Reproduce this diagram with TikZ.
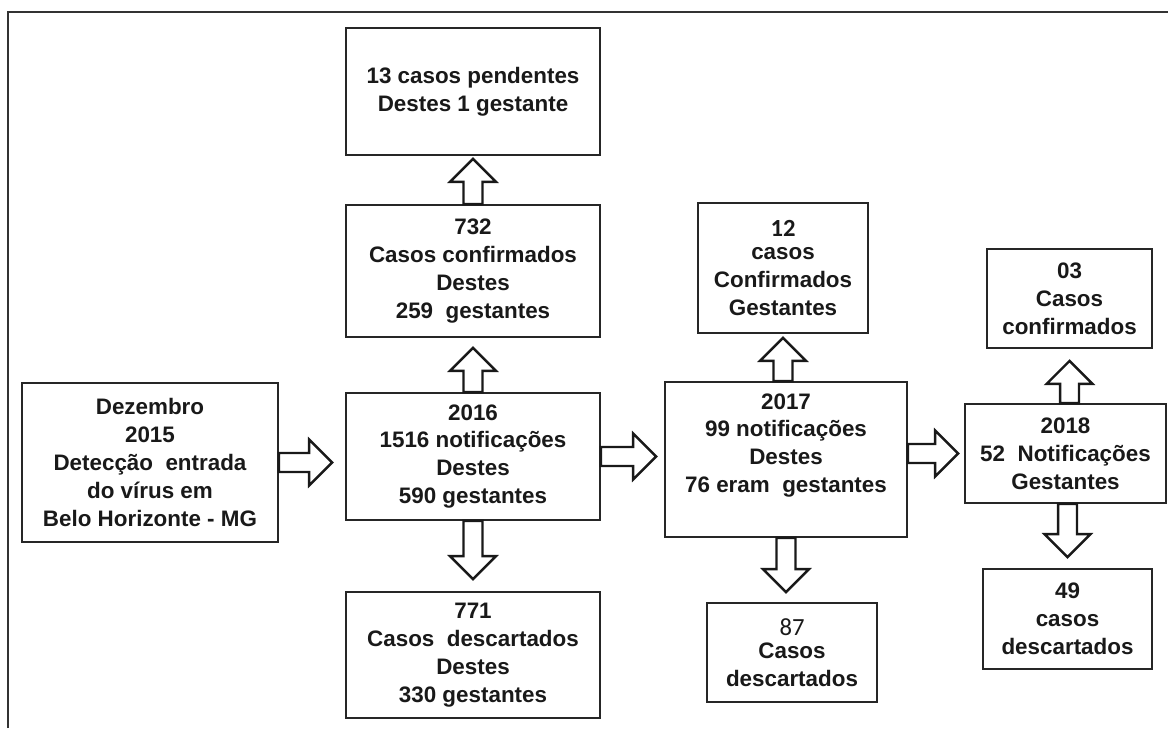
\documentclass[tikz,border=0pt]{standalone}
\usepackage{fontspec}
\setmainfont{Liberation Sans}
\newfontfamily\calfont[Scale=1.1]{Carlito}
\usetikzlibrary{calc}

\begin{document}
\begin{tikzpicture}[x=0.02cm, y=-0.02cm,
    every node/.style={font=\bfseries\fontsize{12.75}{15.9}\selectfont, text=black!90},
    box/.style={draw=black!85, line width=1.1pt, align=center, inner sep=0pt},
    fatarrow/.style={draw=black!90, line width=1.4pt, fill=white, line join=miter},
    hollow/.style={to path={
        let \p1=(\tikztostart), \p2=($(\tikztotarget)!#1!(\tikztostart)$),
            \p3=($(\p2)!0.46cm!(\p1)$) in
        ($(\p1)!0.19cm!90:(\p2)$) -- ($(\p3)!0.19cm!90:(\p2)$)
        -- ($(\p3)!0.46cm!90:(\p2)$) -- (\p2)
        -- ($(\p3)!0.46cm!-90:(\p2)$) -- ($(\p3)!0.19cm!-90:(\p2)$)
        -- ($(\p1)!0.19cm!-90:(\p2)$) -- cycle}}]
    \useasboundingbox (0,0) rectangle (1168,728);
    \draw[black!80, line width=1.6pt] (8,728) -- (8,12) -- (1168,12);

    % 2015 / 2016
    \node[box, minimum width=5.12cm, minimum height=3.18cm] (dez) at (150,462.5)
        {Dezembro\\2015\\Detecção~ entrada\\do vírus em\\Belo Horizonte - MG};
    \node[box, minimum width=5.08cm, minimum height=2.54cm] (n2016) at (473,456.5)
        {2016\\1516 notificações\\Destes\\590 gestantes};
    \node[box, minimum width=5.08cm, minimum height=2.64cm] (c732) at (473,271)
        {732\\Casos confirmados\\Destes\\259~ gestantes};
    \node[box, minimum width=5.08cm, minimum height=2.54cm] (p13) at (473,91.5)
        {13 casos pendentes\\Destes 1 gestante};
    \node[box, minimum width=5.08cm, minimum height=2.52cm] (d771) at (473,655)
        {771\\Casos~ descartados\\Destes\\330 gestantes};

    % 2017
    \node[box, minimum width=4.84cm, minimum height=3.10cm] (n2017) at (786,459.5) {};
    \node[align=center] (n2017txt) at (786,445.5)
        {2017\\99 notificações\\Destes\\76 eram~ gestantes};
    \node[box, minimum width=3.40cm, minimum height=2.60cm] (c12) at (783,268)
        {{\calfont 12}\\[-0.1cm]casos\\Confirmados\\Gestantes};
    \node[box, minimum width=3.40cm, minimum height=1.98cm] (d87) at (792,652.5)
        {{\calfont\mdseries 87}\\[-0.1cm]Casos\\descartados};

    % 2018
    \node[box, minimum width=4.02cm, minimum height=1.98cm] (n2018) at (1065.5,453.5)
        {2018\\52~ Notificações\\Gestantes};
    \node[box, minimum width=3.30cm, minimum height=1.98cm] (c03) at (1069.5,298.5)
        {03\\Casos\\confirmados};
    \node[box, minimum width=3.38cm, minimum height=2.00cm] (d49) at (1067.5,619)
        {49\\casos\\descartados};

    \foreach \a/\b/\g in {dez.east/dez.east -| n2016.west/0.26cm,
            n2016.north/c732.south/0.2cm, c732.north/p13.south/0.06cm,
            n2016.south/d771.north/0.24cm,
            n2016.east/n2016.east -| n2017.west/0.16cm,
            c12.south |- n2017.north/c12.south/0.08cm,
            n2017.south/n2017.south |- d87.north/0.2cm,
            n2018.west -| n2017.east/n2018.west/0.12cm,
            c03.south |- n2018.north/c03.south/0.24cm,
            d49.north |- n2018.south/d49.north/0.22cm}
        \path[fatarrow] (\a) to[hollow=\g] (\b);
\end{tikzpicture}
\end{document}
